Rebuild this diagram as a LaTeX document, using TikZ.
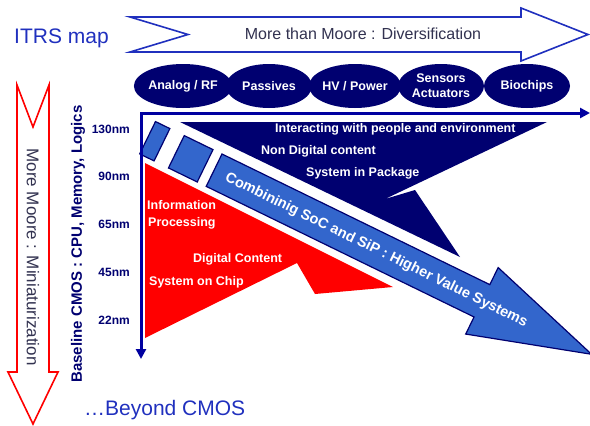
\documentclass[tikz,border=0pt]{standalone}
\usepackage{fontspec}
\setmainfont{Liberation Sans}
\usetikzlibrary{shapes.geometric,arrows.meta}
\definecolor{itrsnavy}{RGB}{0,0,112}
\definecolor{itrsaxis}{RGB}{0,0,160}
\definecolor{itrsblue}{RGB}{51,102,204}
\definecolor{titleblue}{RGB}{32,48,190}
\definecolor{graytext}{RGB}{50,50,80}

\begin{document}
\begin{tikzpicture}[x=1pt,y=-1pt,
	tech/.style={ellipse,fill=itrsnavy,text=white,minimum width=86pt,minimum height=44pt,
		inner sep=0pt,align=center,font=\bfseries\fontsize{12.5}{15}\selectfont},
	inner/.style={text=white,anchor=west,inner sep=0pt,font=\bfseries\fontsize{12.5}{14}\selectfont},
	nmlabel/.style={text=itrsnavy,anchor=east,inner sep=0pt,font=\bfseries\fontsize{12}{14}\selectfont},
	block/.style={fill=itrsblue,draw=itrsnavy,line width=1.2pt,line join=miter}]
\useasboundingbox (0,0) rectangle (590,426);
\node[text=titleblue,anchor=west,inner sep=0pt,font=\fontsize{21}{24}\selectfont] (title) at (14,38) {ITRS map};

\draw[draw=titleblue,line width=1.6pt,fill=white,line join=miter]
	(130,17) -- (521,17) -- (521,8) -- (588,34.5) -- (521,61) -- (521,52) -- (130,52) -- (188,34.5) -- cycle;
\node[text=graytext,font=\fontsize{16}{18}\selectfont] (diversification) at (363,34) {More than Moore : Diversification};

\draw[draw=red,line width=1.6pt,fill=white,line join=miter]
	(17,85) -- (33,127) -- (49,85) -- (49,372) -- (58,372) -- (33,424) -- (8,372) -- (17,372) -- cycle;
\node[rotate=-90,text=graytext,font=\fontsize{17}{20}\selectfont] (miniaturization) at (33,257) {More Moore : Miniaturization};

\node[rotate=90,text=itrsnavy,font=\bfseries\fontsize{15}{18}\selectfont] (baseline) at (78,244) {Baseline CMOS : CPU, Memory, Logics};
\foreach \nm [count=\i from 0] in {130nm,90nm,65nm,45nm,22nm}
	\node[nmlabel] (nm\i) at (130,129+47.75*\i) {\nm};

\foreach \t [count=\i] in {Analog / RF, Passives, HV / Power, {Sensors\\Actuators}, Biochips}
	\node[tech] (tech\i) at (97+86*\i,86) {\t};

\fill[itrsnavy] (180,122) -- (547,122) -- (385,199) -- (415,190) -- (460,257) -- cycle;
\node[inner] (people) at (275,129) {Interacting with people and environment};
\node[inner] (nondigital) at (261,151) {Non Digital content};
\node[inner] (sip) at (306,173) {System in Package};

\fill[red] (145,163) -- (393,287) -- (315,294) -- (297,263) -- (145,338) -- cycle;
\node[inner] (information) at (147,205) {Information};
\node[inner] (processing) at (148,223) {Processing};
\node[inner] (digital) at (193,259) {Digital Content};
\node[inner] (soc) at (149,282) {System on Chip};

\begin{scope}[shift={(222,154)},rotate=-26]
\draw[block] (0,0) -- (298,0) -- (298,-19) -- (420,18) -- (298,55) -- (298,36) -- (0,36) -- cycle;
\draw[block] (-42,0) rectangle (-10,36);
\draw[block] (-74,0) rectangle (-58,36);
\node[rotate=-26,text=white,font=\bfseries\fontsize{14.5}{16}\selectfont] (combining) at (181,19)
	{Combininig SoC and SiP : Higher Value Systems};
\end{scope}

\coordinate (origin) at (141,113);
\coordinate (xend) at (590,113);
\coordinate (yend) at (141,359);
\draw[itrsaxis,line width=3pt,{Triangle[width=10pt,length=10pt]}-{Triangle[width=10pt,length=10pt]}]
	(yend) -- (origin) -- (xend);

\node[text=titleblue,anchor=west,inner sep=0pt,font=\fontsize{21}{24}\selectfont] (beyond) at (84,410) {…Beyond CMOS};
\end{tikzpicture}
\end{document}
